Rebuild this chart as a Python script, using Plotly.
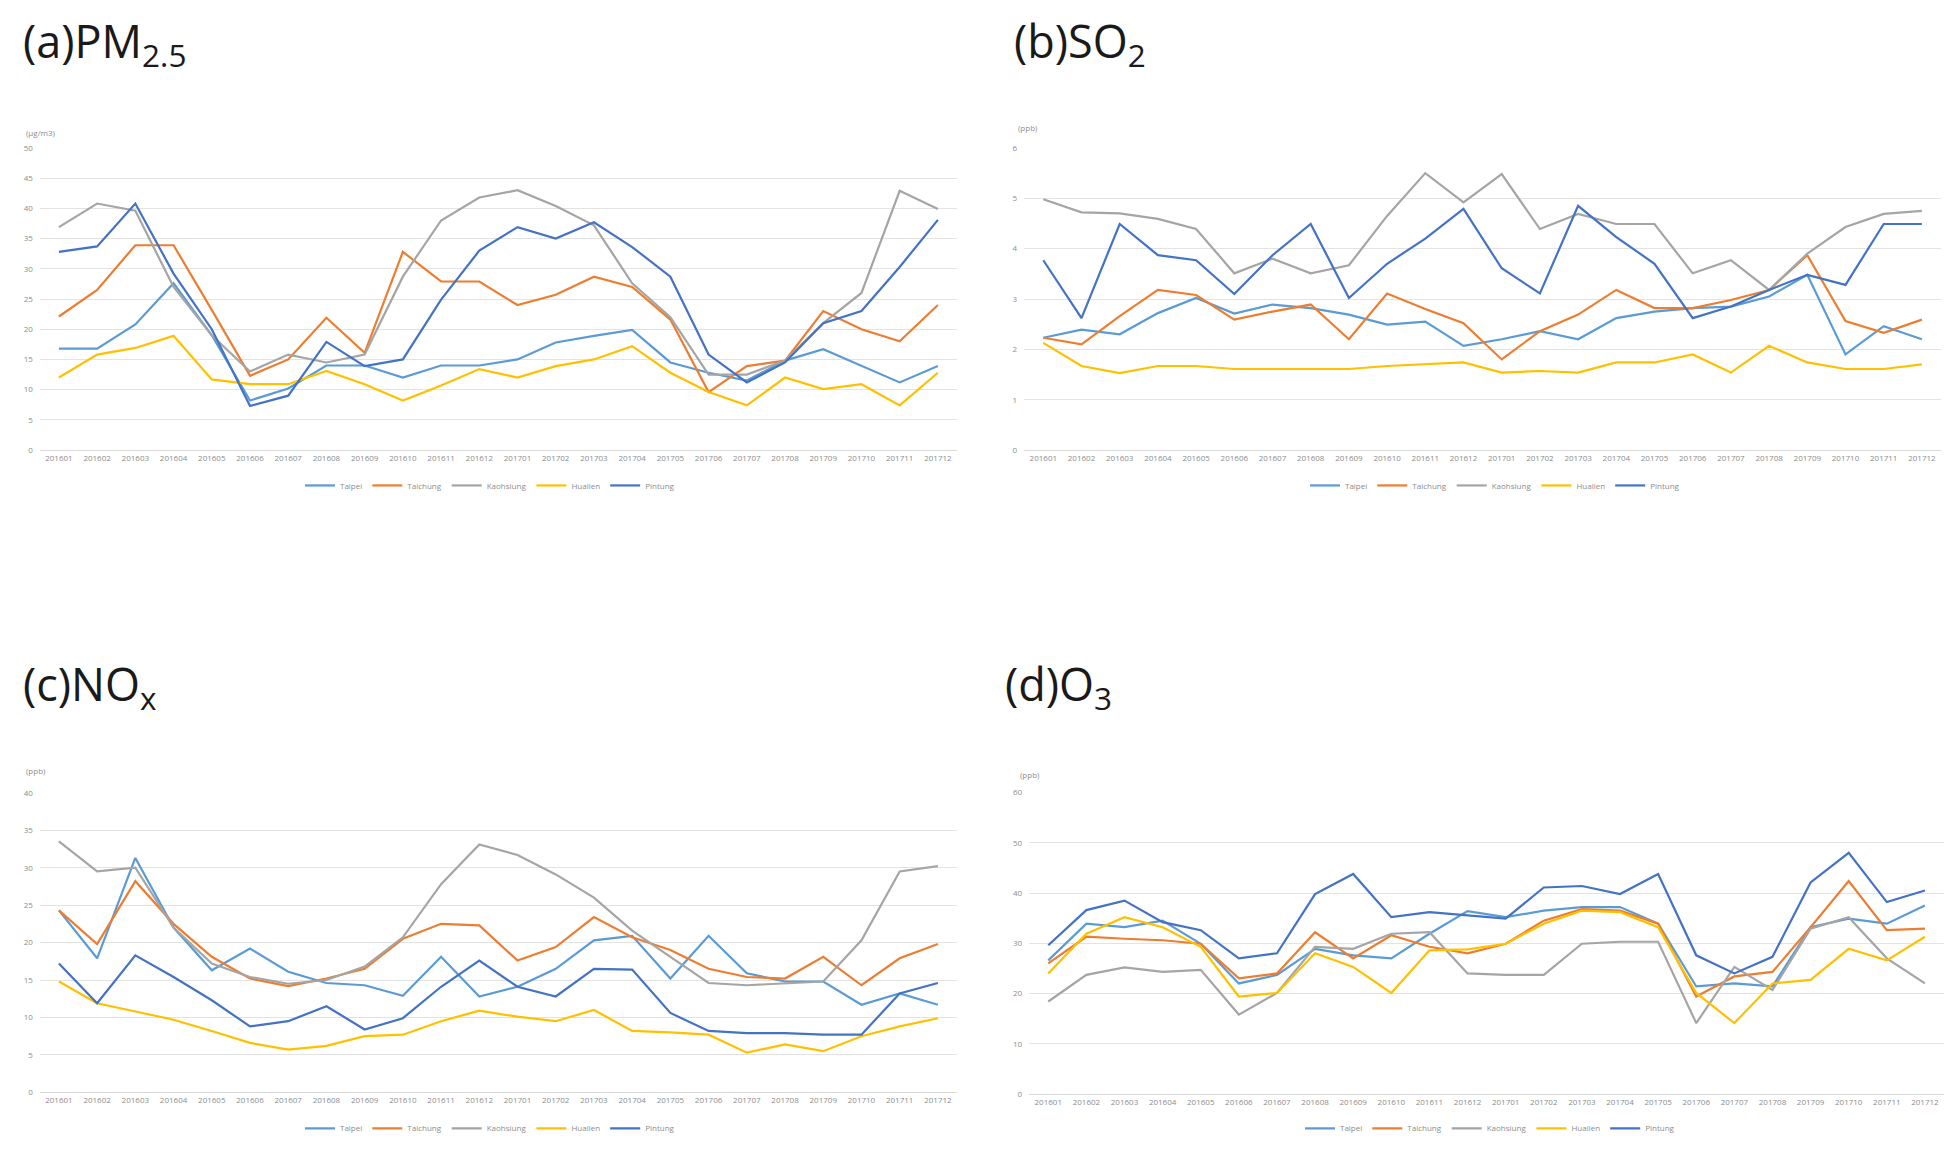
import plotly.graph_objects as go

W, H = 1946, 1165

months = ["201601", "201602", "201603", "201604", "201605", "201606", "201607", "201608",
          "201609", "201610", "201611", "201612", "201701", "201702", "201703", "201704",
          "201705", "201706", "201707", "201708", "201709", "201710", "201711", "201712"]

stations = ["Taipei", "Taichung", "Kaohsiung", "Hualien", "Pintung"]
colors = ["#5B9BD5", "#ED7D31", "#A5A5A5", "#FFC000", "#4472C4"]

# (a) PM2.5 (ug/m3)
pm_taipei = [16.8, 16.8, 20.8, 27.6, 19.0, 8.2, 10.2, 14.0, 14.0, 12.0, 14.0, 14.0,
             15.0, 17.8, 18.9, 19.9, 14.5, 12.8, 11.5, 14.8, 16.7, 13.9, 11.2, 13.9]
pm_taichung = [22.1, 26.5, 33.9, 33.9, 23.2, 12.3, 15.0, 21.9, 16.1, 32.8, 27.9, 27.9,
               24.0, 25.7, 28.7, 27.0, 21.6, 9.6, 13.9, 14.8, 23.0, 20.0, 18.0, 24.0]
pm_kaohsiung = [36.9, 40.8, 39.6, 27.0, 19.0, 13.0, 15.8, 14.5, 15.8, 28.7, 38.0, 41.8,
                43.0, 40.4, 37.2, 27.6, 22.0, 12.5, 12.5, 14.8, 21.0, 26.0, 42.9, 39.9]
pm_hualien = [12.0, 15.8, 16.9, 18.9, 11.7, 10.9, 10.9, 13.1, 10.9, 8.2, 10.7, 13.4,
              12.0, 13.9, 15.0, 17.2, 12.8, 9.6, 7.4, 12.0, 10.1, 10.9, 7.4, 12.8]
pm_pintung = [32.8, 33.7, 40.8, 29.2, 20.0, 7.3, 9.0, 17.9, 13.9, 15.0, 24.9, 33.0,
              36.9, 35.0, 37.7, 33.6, 28.7, 15.8, 11.2, 14.5, 21.0, 23.0, 30.3, 38.1]

# (b) SO2 (ppb)
so2_taipei = [2.23, 2.39, 2.30, 2.72, 3.02, 2.71, 2.89, 2.82, 2.69, 2.49, 2.55, 2.07,
              2.20, 2.36, 2.20, 2.62, 2.75, 2.82, 2.85, 3.05, 3.48, 1.90, 2.46, 2.20]
so2_taichung = [2.23, 2.10, 2.66, 3.18, 3.08, 2.59, 2.75, 2.89, 2.20, 3.11, 2.80, 2.52,
                1.80, 2.36, 2.69, 3.18, 2.82, 2.82, 2.98, 3.18, 3.87, 2.56, 2.33, 2.59]
so2_kaohsiung = [4.98, 4.72, 4.70, 4.59, 4.39, 3.51, 3.80, 3.51, 3.67, 4.65, 5.50, 4.92,
                 5.48, 4.39, 4.69, 4.49, 4.49, 3.51, 3.77, 3.18, 3.90, 4.43, 4.69, 4.75]
so2_hualien = [2.13, 1.67, 1.53, 1.67, 1.67, 1.61, 1.61, 1.61, 1.61, 1.67, 1.70, 1.74,
               1.54, 1.57, 1.54, 1.74, 1.74, 1.90, 1.54, 2.07, 1.74, 1.61, 1.61, 1.70]
so2_pintung = [3.77, 2.62, 4.49, 3.87, 3.77, 3.10, 3.87, 4.49, 3.02, 3.70, 4.20, 4.79,
               3.61, 3.11, 4.85, 4.23, 3.70, 2.62, 2.85, 3.18, 3.48, 3.28, 4.49, 4.49]

# (c) NOx (ppb)
nox_taipei = [24.3, 17.9, 31.3, 22.0, 16.3, 19.2, 16.1, 14.6, 14.3, 12.9, 18.1, 12.8,
              14.1, 16.5, 20.3, 20.9, 15.2, 20.9, 15.9, 14.8, 14.8, 11.7, 13.2, 11.7]
nox_taichung = [24.3, 19.8, 28.2, 22.5, 18.1, 15.2, 14.2, 15.2, 16.5, 20.5, 22.5, 22.3,
                17.6, 19.4, 23.4, 20.7, 19.0, 16.5, 15.4, 15.2, 18.1, 14.3, 17.9, 19.8]
nox_kaohsiung = [33.5, 29.5, 30.0, 22.0, 17.2, 15.4, 14.5, 15.0, 16.8, 20.7, 27.8, 33.1,
                 31.7, 29.1, 26.0, 21.6, 18.1, 14.6, 14.3, 14.6, 14.8, 20.3, 29.5, 30.2]
nox_hualien = [14.8, 11.9, 10.8, 9.7, 8.2, 6.6, 5.7, 6.2, 7.5, 7.7, 9.5, 10.9,
               10.1, 9.5, 11.0, 8.2, 8.0, 7.7, 5.3, 6.4, 5.5, 7.5, 8.8, 9.9]
nox_pintung = [17.2, 11.9, 18.3, 15.4, 12.3, 8.8, 9.5, 11.5, 8.4, 9.9, 14.1, 17.6,
               14.1, 12.8, 16.5, 16.4, 10.6, 8.2, 7.9, 7.9, 7.7, 7.7, 13.2, 14.6]

# (d) O3 (ppb)
o3_taipei = [26.6, 33.9, 33.2, 34.5, 29.9, 22.0, 23.7, 28.9, 27.6, 27.0, 31.9, 36.4,
             35.2, 36.5, 37.2, 37.2, 33.9, 21.4, 22.0, 21.4, 33.2, 34.9, 33.9, 37.5]
o3_taichung = [26.0, 31.3, 30.9, 30.6, 29.9, 23.0, 24.0, 32.2, 27.0, 31.6, 29.3, 28.0,
               29.9, 34.5, 36.8, 36.5, 33.9, 19.4, 23.4, 24.3, 33.2, 42.4, 32.6, 32.9]
o3_kaohsiung = [18.4, 23.7, 25.2, 24.3, 24.7, 15.8, 20.1, 29.3, 28.9, 31.9, 32.2, 24.0,
                23.7, 23.7, 29.9, 30.3, 30.3, 14.1, 25.3, 20.7, 32.9, 35.2, 27.0, 22.0]
o3_hualien = [24.0, 31.9, 35.2, 33.2, 29.3, 19.4, 20.1, 28.0, 25.3, 20.1, 28.6, 28.8,
              29.9, 33.9, 36.5, 36.2, 33.2, 20.1, 14.1, 22.0, 22.7, 28.9, 26.6, 31.3]
o3_pintung = [29.6, 36.6, 38.5, 34.2, 32.6, 27.0, 28.0, 39.8, 43.8, 35.2, 36.2, 35.6,
              34.9, 41.1, 41.4, 39.8, 43.8, 27.6, 24.0, 27.3, 42.1, 48.0, 38.2, 40.5]

panels = [
    dict(series=[pm_taipei, pm_taichung, pm_kaohsiung, pm_hualien, pm_pintung],
         title="(a)PM<sub>2.5</sub>", unit="(μg/m3)", ymax=50, dtick=5,
         px=(39.8, 957), py=(448.3, 143.3), title_xy=(21, 37), unit_xy=(24, 128),
         legend_xy=(490, 484)),
    dict(series=[so2_taipei, so2_taichung, so2_kaohsiung, so2_hualien, so2_pintung],
         title="(b)SO<sub>2</sub>", unit="(ppb)", ymax=6, dtick=1,
         px=(1024.2, 1941), py=(448.3, 143.3), title_xy=(1012, 37), unit_xy=(1016, 123),
         legend_xy=(1495, 484)),
    dict(series=[nox_taipei, nox_taichung, nox_kaohsiung, nox_hualien, nox_pintung],
         title="(c)NO<sub>x</sub>", unit="(ppb)", ymax=40, dtick=5,
         px=(39.8, 957), py=(1096.7, 794.3), title_xy=(21, 686), unit_xy=(24, 772),
         legend_xy=(490, 1133)),
    dict(series=[o3_taipei, o3_taichung, o3_kaohsiung, o3_hualien, o3_pintung],
         title="(d)O<sub>3</sub>", unit="(ppb)", ymax=60, dtick=10,
         px=(1029.2, 1944), py=(1098.3, 794.1), title_xy=(1003, 686), unit_xy=(1018, 776),
         legend_xy=(1490, 1133)),
]

fig = go.Figure()
annotations = []
layout_axes = {}
font_family = "Open Sans, Noto Sans, sans-serif"

for k, p in enumerate(panels):
    n = k + 1
    xa = "x" if n == 1 else f"x{n}"
    ya = "y" if n == 1 else f"y{n}"
    lg = "legend" if n == 1 else f"legend{n}"
    for s, name, col in zip(p["series"], stations, colors):
        fig.add_trace(go.Scatter(
            x=months, y=s, name=name, mode="lines",
            line=dict(color=col, width=2.2),
            xaxis=xa, yaxis=ya, legend=lg, showlegend=True,
        ))
    x0, x1 = p["px"]
    yb, yt = p["py"]
    layout_axes["xaxis" if n == 1 else f"xaxis{n}"] = dict(
        domain=[x0 / W, x1 / W], anchor=ya, type="category",
        range=[-0.5, len(months) - 0.5],
        showgrid=False, showline=True, linecolor="#D9D9D9", linewidth=1,
        ticks="", tickfont=dict(size=8, color="#8C8C8C", family=font_family),
        tickangle=0, fixedrange=True,
    )
    layout_axes["yaxis" if n == 1 else f"yaxis{n}"] = dict(
        domain=[1 - yb / H, 1 - yt / H], anchor=xa,
        range=[0, p["ymax"]], dtick=p["dtick"], tick0=0,
        showgrid=True, gridcolor="#E3E3E3", gridwidth=1,
        zeroline=False, showline=False, ticks="",
        tickfont=dict(size=8, color="#8C8C8C", family=font_family),
        ticklabelstandoff=6, fixedrange=True,
    )
    tx, ty = p["title_xy"]
    annotations.append(dict(
        text=p["title"], x=tx / W, y=1 - ty / H, xref="paper", yref="paper",
        xanchor="left", yanchor="middle", showarrow=False,
        font=dict(size=45, color="#1a1a1a", family=font_family),
    ))
    ux, uy = p["unit_xy"]
    annotations.append(dict(
        text=p["unit"], x=ux / W, y=1 - uy / H, xref="paper", yref="paper",
        xanchor="left", yanchor="middle", showarrow=False,
        font=dict(size=8, color="#8C8C8C", family=font_family),
    ))
    lx, ly = p["legend_xy"]
    layout_axes[lg] = dict(
        orientation="h", x=lx / W, y=1 - ly / H, xanchor="center", yanchor="middle",
        font=dict(size=8, color="#8C8C8C", family=font_family),
        bgcolor="rgba(0,0,0,0)", itemwidth=30, tracegroupgap=0,
    )

fig.update_layout(
    width=W, height=H,
    margin=dict(l=0, r=0, t=0, b=0),
    paper_bgcolor="white", plot_bgcolor="white",
    annotations=annotations,
    **layout_axes,
)

fig.write_html(
    "out.html",
    config={"displayModeBar": False},
    post_script="document.body.style.margin='0';document.body.style.overflow='hidden';",
)
